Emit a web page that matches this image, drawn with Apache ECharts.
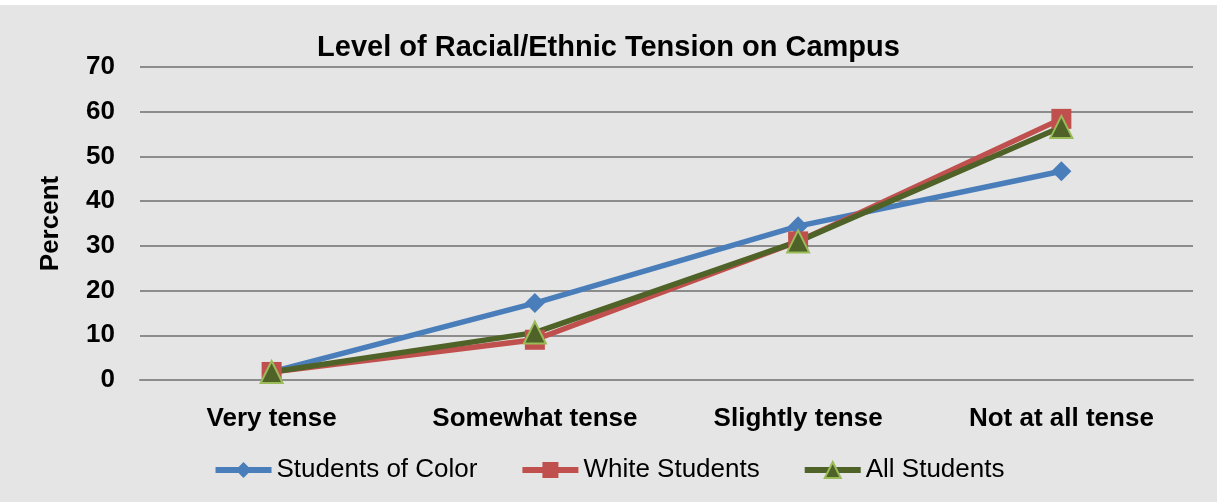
<!DOCTYPE html>
<html>
<head>
<meta charset="utf-8">
<script src="https://cdn.jsdelivr.net/npm/echarts@6/dist/echarts.min.js"></script>
<style>
  html, body { margin: 0; padding: 0; background: #ffffff; }
  #chart { position: absolute; left: 0; top: 5px; width: 1217px; height: 497px; }
</style>
</head>
<body>
<div id="chart"></div>
<script>
// Survey responses: perceived racial/ethnic tension on campus (percent)
const categories = ['Very tense', 'Somewhat tense', 'Slightly tense', 'Not at all tense'];
const studentsOfColor = [1.8, 17.2, 34.4, 46.7];
const whiteStudents = [1.8, 9.0, 31.0, 58.4];
const allStudents = [1.8, 10.6, 31.0, 56.6];
const yTicks = { min: 0, max: 70, interval: 10 };

const font = 'Liberation Sans, Arial, sans-serif';
const chart = echarts.init(document.getElementById('chart'));

chart.setOption({
  backgroundColor: '#e5e5e5',
  animation: false,
  title: {
    text: 'Level of Racial/Ethnic Tension on Campus',
    left: 'center',
    top: 23,
    textStyle: { fontFamily: font, fontSize: 29, fontWeight: 'bold', color: '#000' }
  },
  legend: {
    left: 'center',
    top: 447,
    itemWidth: 56,
    itemHeight: 20,
    itemGap: 42,
    lineStyle: { width: 6 },
    textStyle: { fontFamily: font, fontSize: 26, color: '#000' },
    data: ['Students of Color', 'White Students', 'All Students']
  },
  grid: { left: 140, right: 24, top: 62, bottom: 122 },
  xAxis: {
    type: 'category',
    data: categories,
    boundaryGap: true,
    axisLine: { show: true, lineStyle: { color: '#8c8c8c', width: 2 } },
    axisTick: { show: false },
    axisLabel: { interval: 0, fontFamily: font, fontSize: 26, fontWeight: 'bold', color: '#000', margin: 26 }
  },
  yAxis: {
    type: 'value',
    min: yTicks.min,
    max: yTicks.max,
    interval: yTicks.interval,
    name: 'Percent',
    nameLocation: 'middle',
    nameGap: 76,
    nameTextStyle: { fontFamily: font, fontSize: 26, fontWeight: 'bold', color: '#000' },
    axisLine: { show: false },
    axisTick: { show: false },
    axisLabel: { fontFamily: font, fontSize: 26, fontWeight: 'bold', color: '#000', margin: 25 },
    splitLine: { lineStyle: { color: '#8c8c8c', width: 2 } }
  },
  series: [
    {
      name: 'Students of Color',
      type: 'line',
      data: studentsOfColor,
      symbol: 'diamond',
      symbolSize: 20,
      lineStyle: { color: '#4a7ebb', width: 5.5 },
      itemStyle: { color: '#4a7ebb' }
    },
    {
      name: 'White Students',
      type: 'line',
      data: whiteStudents,
      symbol: 'rect',
      symbolSize: 20,
      lineStyle: { color: '#c0504d', width: 5.5 },
      itemStyle: { color: '#c0504d' }
    },
    {
      name: 'All Students',
      type: 'line',
      data: allStudents,
      symbol: 'triangle',
      symbolSize: 22,
      lineStyle: { color: '#4f6228', width: 5.5 },
      itemStyle: { color: '#4f6228', borderColor: '#9bbb59', borderWidth: 2 }
    }
  ]
});
</script>
</body>
</html>
